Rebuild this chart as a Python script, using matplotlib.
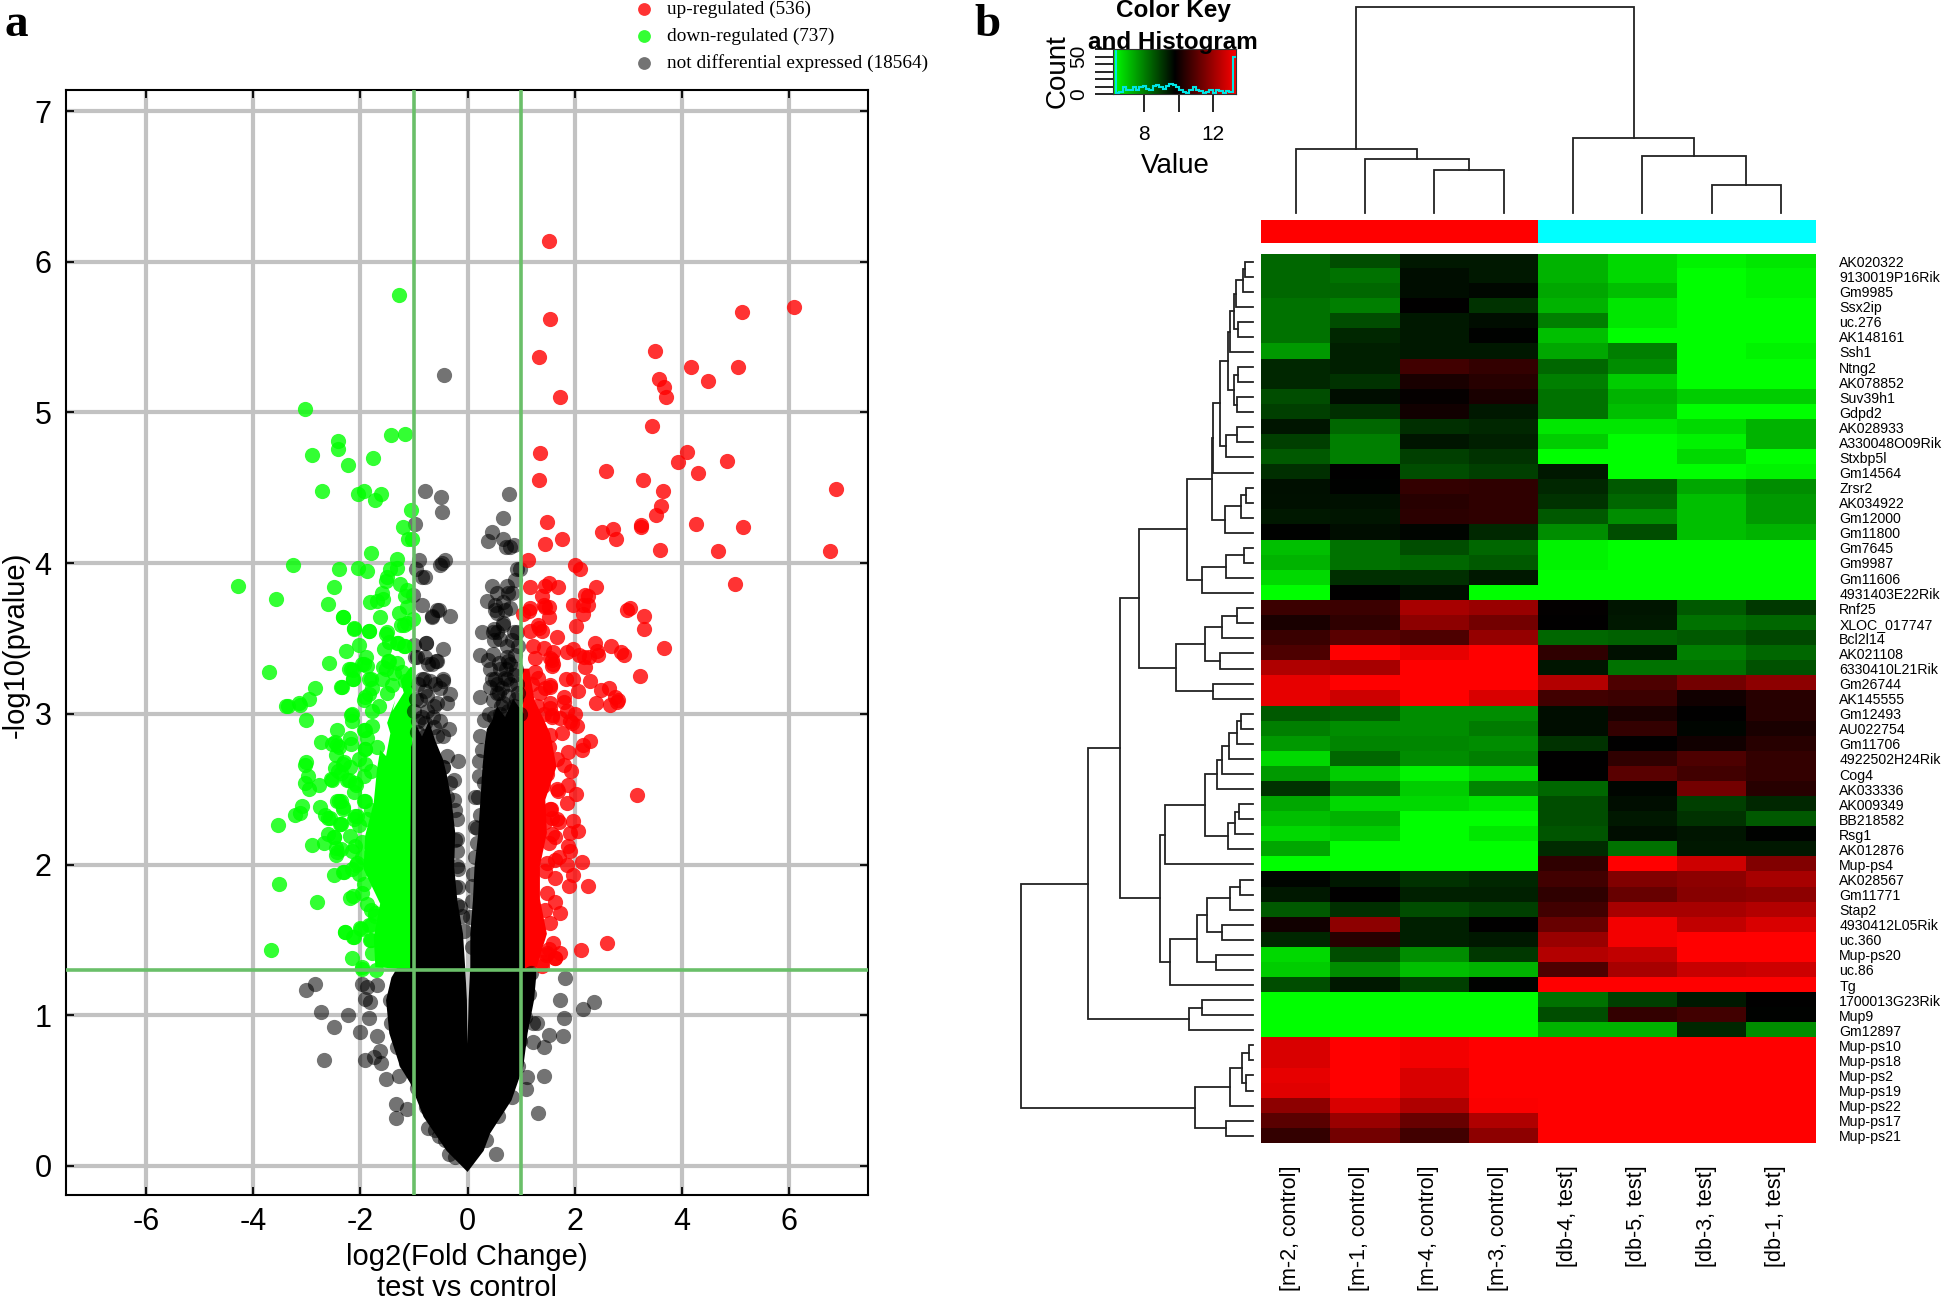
import numpy as np
import matplotlib
matplotlib.use('Agg')
import matplotlib.pyplot as plt
from matplotlib.colors import LinearSegmentedColormap, ListedColormap

plt.rcParams['font.family'] = ['Liberation Sans', 'DejaVu Sans']

# volcano plot, single points as (log2fc, -log10p)
up_points = [
    (1.51, 6.14), (1.53, 5.62), (1.34, 5.37), (1.72, 5.10), (1.36, 4.73), (1.34, 4.55), (2.58, 4.61), (3.27, 4.55),
    (1.48, 4.27), (1.76, 4.16), (1.45, 4.13), (2.51, 4.21), (2.71, 4.23), (2.77, 4.16), (3.23, 4.24), (1.12, 4.02),
    (2.01, 3.99), (2.09, 3.96), (1.17, 3.84), (1.45, 3.85), (1.51, 3.87), (1.68, 3.84), (2.40, 3.84), (1.39, 3.78),
    (2.20, 3.79), (2.24, 3.78), (1.97, 3.72), (2.16, 3.72), (2.24, 3.72), (1.42, 3.72), (1.51, 3.71), (1.16, 3.70),
    (1.04, 3.66), (2.16, 3.66), (1.51, 3.64), (2.97, 3.69), (3.03, 3.70), (3.30, 3.65), (3.30, 3.56), (2.02, 3.58),
    (1.67, 3.51), (1.33, 3.57), (1.39, 3.55), (2.37, 3.47), (2.67, 3.45), (2.41, 3.42), (2.44, 3.39), (2.87, 3.41),
    (2.91, 3.39), (1.85, 3.41), (1.97, 3.43), (2.07, 3.39), (2.18, 3.38), (2.26, 3.38), (2.20, 3.31), (1.60, 3.41),
    (1.57, 3.36), (1.59, 3.33), (3.22, 3.25), (1.84, 3.23), (1.97, 3.23), (2.29, 3.22), (1.54, 3.18), (1.45, 3.17),
    (2.06, 3.15), (2.48, 3.16), (2.63, 3.17), (1.79, 3.11), (2.75, 3.11),
    (5.12, 5.67), (6.09, 5.70), (3.50, 5.41), (5.05, 5.30), (4.17, 5.30), (3.57, 5.22), (3.66, 5.17), (3.71, 5.10),
    (4.49, 5.21), (3.45, 4.91), (4.10, 4.74), (3.92, 4.67), (4.84, 4.68), (4.29, 4.60), (6.88, 4.49), (3.64, 4.48),
    (3.61, 4.38), (3.52, 4.32), (5.14, 4.24), (4.26, 4.26), (3.24, 4.25), (3.59, 4.09), (4.68, 4.08), (6.76, 4.08),
    (4.98, 3.86), (3.66, 3.44), (3.16, 2.46),
    (2.28, 2.82), (2.15, 2.79), (2.13, 2.76), (1.87, 2.75), (1.93, 2.62), (1.88, 2.53), (1.67, 2.50), (2.03, 2.47),
    (1.85, 2.41), (1.56, 2.37), (1.57, 2.31), (1.70, 2.28), (1.97, 2.29), (2.06, 2.22), (1.92, 2.21), (1.57, 2.20),
    (1.88, 2.12), (1.92, 2.09), (2.13, 2.02), (1.70, 2.05), (1.85, 2.00), (1.48, 2.01), (1.45, 1.96), (1.64, 1.91),
    (1.96, 1.93), (1.90, 1.86), (2.25, 1.86), (1.48, 1.81), (1.64, 1.75), (1.72, 1.68), (1.60, 1.48), (1.73, 1.41),
    (1.64, 1.38), (2.11, 1.43), (2.61, 1.48), (1.47, 1.40), (1.39, 1.33), (2.40, 3.07), (2.65, 3.06), (2.79, 3.08),
    (1.54, 3.04), (1.79, 3.08), (2.01, 3.00), (1.95, 2.94), (2.04, 2.92), (1.76, 2.87), (1.57, 2.99), (1.54, 2.86),
    (1.14, 3.68), (1.45, 3.71), (1.32, 3.59), (1.17, 3.55), (1.23, 3.45), (1.42, 3.44), (1.26, 3.37), (1.54, 3.37),
    (1.57, 3.32), (1.26, 3.28), (1.32, 3.24), (1.20, 3.20), (1.35, 3.14), (1.54, 3.19), (2.81, 3.09), (1.54, 3.07),
    (1.29, 3.05), (1.85, 3.02), (1.42, 3.00), (1.57, 2.98), (1.73, 2.97), (1.91, 2.95), (1.66, 2.70), (1.79, 2.66),
    (1.69, 2.49), (1.54, 2.37), (1.66, 2.30), (1.63, 2.18), (1.51, 2.14), (1.63, 2.03), (1.45, 1.70), (1.54, 1.61),
    (1.63, 1.38), (1.48, 1.41), (1.39, 1.35), (1.51, 1.44), (1.48, 2.60), (1.40, 2.52), (1.52, 2.78), (1.44, 2.28),
]
down_points = [
    (-1.27, 5.78), (-3.04, 5.02), (-1.42, 4.85), (-1.16, 4.86), (-2.42, 4.81), (-2.41, 4.76), (-2.90, 4.72),
    (-1.76, 4.70), (-2.23, 4.65), (-2.71, 4.48), (-2.05, 4.46), (-1.93, 4.48), (-1.62, 4.46), (-1.72, 4.42),
    (-1.05, 4.35), (-1.21, 4.24), (-1.12, 4.16), (-1.04, 4.16), (-1.81, 4.07), (-1.31, 4.03), (-3.26, 3.99),
    (-2.39, 3.96), (-2.05, 3.97), (-1.88, 3.95), (-1.32, 3.97), (-1.44, 3.96), (-1.50, 3.91), (-1.52, 3.88),
    (-1.26, 3.86), (-2.50, 3.84), (-3.58, 3.76), (-2.60, 3.73), (-1.82, 3.74), (-1.69, 3.75), (-1.58, 3.76),
    (-1.60, 3.80), (-1.13, 3.82), (-1.16, 3.78), (-1.13, 3.71), (-1.27, 3.67), (-2.33, 3.64), (-1.64, 3.64),
    (-2.11, 3.57), (-1.83, 3.55), (-1.24, 3.59), (-1.13, 3.60), (-1.01, 3.63), (-1.52, 3.53), (-1.47, 3.48),
    (-1.32, 3.47), (-1.19, 3.45), (-2.03, 3.46), (-2.26, 3.42), (-1.89, 3.38), (-1.55, 3.43), (-2.58, 3.34),
    (-1.97, 3.33), (-1.88, 3.32), (-3.71, 3.28), (-2.21, 3.30), (-2.13, 3.29), (-1.49, 3.35), (-1.32, 3.34),
    (-1.57, 3.31), (-2.14, 3.23), (-1.83, 3.23), (-2.84, 3.17), (-2.36, 3.18), (-2.95, 3.10), (-3.15, 3.07),
    (-1.78, 3.17), (-1.91, 3.11), (-4.28, 3.85), (-3.38, 3.05),
    (-3.35, 3.05), (-3.13, 3.06), (-3.01, 2.96), (-2.17, 2.99), (-2.16, 2.95), (-2.44, 2.89), (-2.73, 2.81),
    (-2.53, 2.80), (-2.43, 2.79), (-2.45, 2.73), (-2.19, 2.84), (-2.18, 2.80), (-1.91, 2.89), (-1.88, 2.84),
    (-1.91, 2.77), (-3.01, 2.68), (-3.03, 2.66), (-2.97, 2.59), (-3.03, 2.54), (-2.95, 2.50), (-2.78, 2.53),
    (-2.54, 2.57), (-2.41, 2.62), (-2.30, 2.68), (-2.19, 2.65), (-2.22, 2.56), (-2.10, 2.54), (-2.11, 2.48),
    (-3.09, 2.39), (-3.12, 2.34), (-3.22, 2.33), (-2.76, 2.38), (-2.66, 2.33), (-2.61, 2.31), (-2.43, 2.42),
    (-2.36, 2.42), (-2.33, 2.37), (-1.93, 2.42), (-2.10, 2.32), (-2.38, 2.27), (-3.54, 2.26), (-2.61, 2.20),
    (-2.50, 2.18), (-2.67, 2.14), (-2.19, 2.19), (-2.90, 2.13), (-2.45, 2.11), (-2.45, 2.06), (-2.10, 2.12),
    (-2.16, 2.09), (-2.50, 1.93), (-2.33, 1.95), (-2.16, 1.97), (-2.06, 2.01), (-3.52, 1.87), (-2.81, 1.75),
    (-2.20, 1.78), (-2.14, 1.79), (-1.88, 1.74), (-1.72, 1.68), (-2.29, 1.55), (-2.13, 1.52), (-1.98, 1.57),
    (-1.83, 1.60), (-3.66, 1.43), (-1.82, 1.50), (-1.78, 1.41), (-2.15, 1.38), (-1.97, 1.31), (-1.70, 1.30),
    (-2.32, 3.64), (-2.12, 3.56), (-1.84, 3.55), (-1.18, 3.59), (-1.50, 3.54), (-1.29, 3.47), (-1.16, 3.45),
    (-1.94, 3.33), (-2.17, 3.30), (-2.14, 3.23), (-2.35, 3.18), (-1.47, 3.35), (-1.53, 3.30), (-1.38, 3.27),
    (-1.22, 3.28), (-1.60, 3.23), (-1.81, 3.23), (-1.41, 3.19), (-1.16, 3.22), (-1.50, 3.14), (-1.94, 3.09),
    (-1.84, 3.13), (-1.66, 3.05), (-1.78, 3.02), (-2.16, 3.00), (-1.94, 2.89), (-1.91, 2.77), (-2.47, 2.81),
    (-2.40, 2.78), (-1.69, 2.78), (-1.78, 2.92), (-2.03, 2.70), (-2.32, 2.67), (-1.91, 2.67), (-2.47, 2.64),
    (-2.37, 2.61), (-2.53, 2.56), (-2.25, 2.56), (-2.09, 2.53), (-1.94, 2.59), (-1.81, 2.62), (-2.40, 2.42),
    (-2.32, 2.38), (-1.92, 2.42), (-1.81, 2.36), (-2.56, 2.31), (-2.37, 2.27), (-2.12, 2.30), (-2.06, 2.32),
    (-2.03, 2.26), (-1.88, 2.30), (-2.50, 2.18), (-1.97, 2.15), (-2.43, 2.08), (-2.37, 2.10), (-1.97, 2.05),
    (-2.09, 2.00), (-2.31, 1.95), (-2.03, 1.94), (-1.94, 1.87), (-1.97, 1.81), (-1.81, 1.70), (-1.72, 1.66),
    (-1.81, 1.60), (-2.00, 1.58), (-2.28, 1.55), (-2.12, 1.52), (-1.81, 1.50), (-1.97, 1.32),
]
grey_points = [
    (-0.44, 5.25), (-0.80, 4.48), (-0.50, 4.44), (-0.47, 4.34), (0.78, 4.46), (0.66, 4.30), (0.45, 4.21), (0.39, 4.15),
    (0.66, 4.16), (0.72, 4.11), (0.80, 4.11), (0.86, 4.12), (-0.98, 4.26), (-0.91, 4.02), (-0.43, 4.02), (-0.48, 4.00),
    (-0.51, 3.99), (-0.97, 3.96), (-0.85, 3.91), (-0.79, 3.91), (0.92, 3.96), (0.98, 3.96), (0.89, 3.89), (0.45, 3.85),
    (0.73, 3.85), (0.55, 3.80), (0.76, 3.80), (0.83, 3.80), (0.36, 3.75), (0.52, 3.72), (0.80, 3.70), (0.70, 3.69),
    (0.55, 3.67), (-1.01, 3.79), (-0.85, 3.72), (-0.54, 3.69), (-0.67, 3.64), (-0.32, 3.65), (0.27, 3.54), (0.49, 3.56),
    (0.55, 3.54), (0.67, 3.59), (0.49, 3.49), (0.92, 3.54), (0.83, 3.49), (-0.78, 3.47), (-0.99, 3.46), (-0.45, 3.43),
    (0.24, 3.39), (0.39, 3.36), (0.58, 3.34), (0.73, 3.45), (0.76, 3.35), (-0.95, 3.38), (-0.79, 3.38), (-0.67, 3.33),
    (-0.57, 3.35), (-0.85, 3.23), (-0.46, 3.22), (-0.70, 3.22), (-0.51, 3.17), (-0.32, 3.13), (0.45, 3.23), (0.42, 3.18),
    (0.58, 3.14), (0.24, 3.11), (0.73, 3.23),
    (-0.35, 2.90), (-0.17, 2.69), (-0.26, 2.56), (0.21, 2.69), (0.22, 2.59), (0.14, 2.45), (0.24, 2.33), (-0.23, 2.36),
    (-0.19, 2.09), (0.17, 2.24), (0.17, 2.14), (0.08, 1.86), (-0.17, 1.85), (1.81, 1.25), (1.73, 1.10), (2.35, 1.09),
    (2.16, 1.04), (1.79, 0.98), (1.52, 0.87), (1.78, 0.86), (1.42, 0.79), (1.23, 0.82), (1.29, 0.95), (1.23, 0.95),
    (1.42, 0.60), (1.11, 0.59), (1.09, 0.51), (1.31, 0.35), (0.53, 0.08), (-2.84, 1.21), (-3.01, 1.17), (-2.73, 1.02),
    (-2.23, 1.00), (-2.50, 0.92), (-1.97, 1.21), (-1.88, 1.19), (-1.69, 1.20), (-1.91, 1.11), (-1.82, 1.09), (-1.83, 0.98),
    (-2.00, 0.89), (-1.69, 0.86), (-2.67, 0.70), (-1.91, 0.70), (-1.75, 0.72), (-1.63, 0.76), (-1.62, 0.68), (-1.27, 0.60),
    (-1.52, 0.58), (-1.33, 0.41), (-1.13, 0.38), (-1.33, 0.32), (-0.74, 0.25), (-0.54, 0.20), (-0.35, 0.08),
    (0.67, 3.74), (0.51, 3.69), (0.67, 3.60), (0.48, 3.54), (0.61, 3.50), (0.86, 3.54), (0.48, 3.40), (0.73, 3.38),
    (0.89, 3.39), (0.80, 3.33), (0.70, 3.24), (0.52, 3.23), (0.86, 3.26), (0.92, 3.20), (0.55, 3.14), (0.76, 3.12),
    (0.95, 3.14), (0.67, 3.07), (0.48, 3.09), (0.86, 3.05), (0.40, 3.00), (0.60, 3.00),
    (-0.57, 3.69), (-0.66, 3.65), (-0.77, 3.47), (-0.98, 3.38), (-0.58, 3.35), (-0.73, 3.33), (-0.45, 3.23), (-0.82, 3.23),
    (-0.39, 3.07), (-0.57, 3.07), (-0.76, 3.12), (-0.88, 3.09), (-0.79, 2.94), (-0.63, 2.91), (-0.79, 2.85), (-0.57, 2.85),
    (-0.92, 2.95), (-0.45, 2.65), (-0.39, 2.72), (-0.97, 3.10), (-0.65, 2.98), (-0.92, 3.20),
    (-0.39, 2.45), (-0.20, 2.17), (-0.17, 1.97), (-0.23, 1.85), (-0.20, 1.73), (-0.11, 1.66),
    (0.30, 2.96), (0.24, 2.85), (0.27, 2.76), (0.30, 2.54), (0.20, 2.45), (0.14, 2.25), (0.14, 2.05), (0.11, 1.94),
    (0.08, 1.76), (0.05, 1.65), (0.08, 1.45), (-0.45, 2.65), (-0.32, 2.54), (-0.26, 2.43), (-0.20, 2.30), (-0.23, 2.16),
    (-0.20, 1.99), (-0.14, 1.72), (-0.07, 1.56),
    (-1.45, 1.10), (-1.42, 0.95), (-1.32, 0.79), (-1.14, 0.68), (-0.94, 0.52), (-0.78, 0.39), (-0.60, 0.24), (-0.42, 0.17),
    (-0.24, 0.06), (1.18, 1.28), (1.15, 1.14), (1.08, 0.99), (0.98, 0.83), (0.94, 0.66), (0.82, 0.46), (0.57, 0.33),
    (0.34, 0.17),
    (0.50, 2.98), (0.62, 3.05), (0.75, 3.02), (0.90, 3.10), (0.98, 3.00), (0.55, 3.20), (0.65, 3.17), (0.80, 3.20),
    (0.90, 3.30), (0.60, 3.30), (0.72, 3.30), (0.95, 3.45), (0.42, 3.30), (-0.95, 2.88), (-0.85, 2.98), (-0.75, 3.02),
    (-0.62, 3.05), (-0.52, 2.95), (-0.45, 2.85), (-1.00, 3.02), (-0.80, 3.15), (-0.60, 3.20),
]

# the saturated clouds can't be told apart point by point, so keep their outlines
core_x = [0, -0.39, -0.82, -1.07, -1.26, -1.46, -1.52, -1.42, -1.32, -1.07, -1.07, -1.05, -0.95, -0.85, -0.72, -0.60,
          -0.46, -0.39, -0.30, -0.23, -0.25, -0.19, -0.085, -0.045, -0.012, 0, 0.02, 0.05, 0.05, 0.10, 0.13, 0.20,
          0.24, 0.28, 0.32, 0.36, 0.45, 0.55, 0.70, 0.85, 1.05, 1.07, 1.28, 1.28, 1.24, 1.12, 1.04, 0.82, 0.42, 0.30]
core_y = [-0.04, 0.10, 0.325, 0.55, 0.66, 0.88, 1.10, 1.25, 1.31, 1.31, 2.0, 2.78, 2.92, 2.85, 2.95, 2.82,
          2.70, 2.60, 2.43, 2.21, 1.985, 1.76, 1.54, 1.32, 1.10, 0.81, 1.10, 1.32, 1.54, 1.76, 1.985, 2.21,
          2.43, 2.65, 2.80, 2.90, 2.95, 3.05, 2.98, 3.10, 3.00, 1.31, 1.31, 1.255, 1.10, 0.88, 0.66, 0.436, 0.215, 0.10]
down_cloud_x = [-1.03, -1.72, -1.75, -1.63, -1.94, -1.91, -1.75, -1.69, -1.63, -1.52, -1.44, -1.50, -1.35, -1.40, -1.19,
                -1.25, -1.07, -1.03]
down_cloud_y = [1.30, 1.32, 1.52, 1.74, 1.97, 2.19, 2.41, 2.63, 2.76, 2.72, 2.87, 2.94, 3.09, 3.02, 3.14, 3.22, 3.31,
                3.31]
up_cloud_x = [1.03, 1.29, 1.48, 1.35, 1.35, 1.48, 1.45, 1.66, 1.54, 1.40, 1.25, 1.15, 1.03]
up_cloud_y = [1.30, 1.32, 1.54, 1.77, 1.99, 2.21, 2.43, 2.65, 2.87, 2.98, 3.09, 3.30, 3.30]

fc_cut = 1
p_cut = 1.3
x_ticks = [-6, -4, -2, 0, 2, 4, 6]
y_ticks = [0, 1, 2, 3, 4, 5, 6, 7]

legend_labels = ['up-regulated (536)', 'down-regulated (737)', 'not differential expressed (18564)']

# heatmap: -10 is full green, 0 black, 10 full red
gene_names = [
    'AK020322', '9130019P16Rik', 'Gm9985', 'Ssx2ip', 'uc.276', 'AK148161', 'Ssh1', 'Ntng2', 'AK078852', 'Suv39h1',
    'Gdpd2', 'AK028933', 'A330048O09Rik', 'Stxbp5l', 'Gm14564', 'Zrsr2', 'AK034922', 'Gm12000', 'Gm11800', 'Gm7645',
    'Gm9987', 'Gm11606', '4931403E22Rik', 'Rnf25', 'XLOC_017747', 'Bcl2l14', 'AK021108', '6330410L21Rik', 'Gm26744',
    'AK145555', 'Gm12493', 'AU022754', 'Gm11706', '4922502H24Rik', 'Cog4', 'AK033336', 'AK009349', 'BB218582', 'Rsg1',
    'AK012876', 'Mup-ps4', 'AK028567', 'Gm11771', 'Stap2', '4930412L05Rik', 'uc.360', 'Mup-ps20', 'uc.86', 'Tg',
    '1700013G23Rik', 'Mup9', 'Gm12897', 'Mup-ps10', 'Mup-ps18', 'Mup-ps2', 'Mup-ps19', 'Mup-ps22', 'Mup-ps17', 'Mup-ps21',
]
sample_names = ['[m-2, control]', '[m-1, control]', '[m-4, control]', '[m-3, control]',
                '[db-4, test]', '[db-5, test]', '[db-3, test]', '[db-1, test]']
sample_groups = [0, 0, 0, 0, 1, 1, 1, 1]
heat_values = [
    [-4, -3, -1, -1, -7, -8.5, -9.5, -9],
    [-4, -4.5, -0.5, -1, -7, -8.5, -10, -9.5],
    [-4, -4, -0.5, -0.3, -6.5, -7.5, -10, -9.5],
    [-4.5, -5, 0, -2, -7, -9, -10, -10],
    [-4.5, -3, -1, -0.5, -5, -9, -10, -10],
    [-4.5, -1.5, -1, -0.1, -7.5, -10, -10, -10],
    [-6, -1.2, -1, -1, -6.5, -5, -10, -9.5],
    [-1.5, -1.2, 2.5, 2, -4, -5.5, -10, -10],
    [-1.5, -2, 1, 1.5, -5, -8, -10, -10],
    [-3, -0.5, 0.2, 1, -4.5, -7, -8, -8],
    [-2.5, -1.8, 0.7, -1, -4.5, -7.5, -10, -10],
    [-0.8, -4, -1.8, -1.5, -9, -9, -8.5, -7],
    [-2.5, -5, -0.8, -1.2, -8, -10, -9.5, -7],
    [-3.5, -5, -2.5, -2, -10, -10, -8.5, -10],
    [-1.8, 0, -3, -2.5, -1, -10, -10, -9.5],
    [-0.6, -0.1, 2, 1.8, -1.5, -3.5, -6.5, -5.5],
    [-0.7, -0.7, 1.5, 1.8, -2, -4, -7.5, -6],
    [-1, -0.8, 1.7, 1.8, -3.5, -5.5, -7.5, -6],
    [-0.1, -0.5, -0.2, -1.6, -5.5, -3, -7.5, -7],
    [-7.5, -4.5, -3, -4, -9.5, -10, -10, -10],
    [-7, -4.5, -4, -3.5, -9.5, -10, -10, -10],
    [-8.5, -1.8, -1.8, -1, -10, -10, -10, -10],
    [-10, 0, -0.5, -10, -10, -10, -10, -10],
    [2.3, 2.3, 6.5, 6, 0.1, -0.8, -3.5, -2.2],
    [1, 1.8, 5.5, 4.5, 0, -1, -4.5, -4],
    [2.2, 3.5, 3, 5.8, -4, -3.8, -3.5, -2.8],
    [3, 10, 9, 10, 1.8, -0.7, -5, -4],
    [6.8, 6.5, 10, 10, -0.8, -4.5, -4.5, -3.2],
    [9, 10, 10, 10, 7, 3, 4.5, 5.5],
    [9, 8, 10, 8.5, 2.5, 2.3, 0.7, 1.5],
    [-3.5, -3.8, -5.5, -5.5, -0.5, 1, 0, 1.5],
    [-5, -5.5, -5.5, -4.8, -0.5, 2, -0.2, 1],
    [-6, -5.2, -5.3, -5.5, -2, 0, 0.7, 1.5],
    [-8.5, -4, -5.5, -5, 0, 1.8, 3, 2],
    [-6, -8, -9.5, -8.5, 0, 3.5, 2.5, 2],
    [-2, -5, -8, -5.2, -4, -0.2, 4.5, 1.5],
    [-6.5, -8.5, -8.5, -9, -3, -0.5, -2.5, -1.5],
    [-7.5, -7, -10, -10, -3, -1, -2, -3.5],
    [-8.5, -8, -10, -9, -3.3, -0.5, -0.8, -0.1],
    [-6.5, -10, -10, -10, -1.7, -4.5, -1, -1],
    [-10, -10, -10, -10, 1.8, 10, 8, 5],
    [-0.2, -1, -2, -1.5, 2.5, 5, 5.5, 6.5],
    [-1, 0, -1.3, -1.3, 1.8, 4, 5.3, 5.5],
    [-3.5, -1.8, -3, -2.5, 2.5, 6.5, 6.5, 7],
    [0.7, 5.5, -1.2, 0, 4, 9.5, 7.5, 8.5],
    [-1.5, 1.5, -1.2, -1, 6, 9.5, 10, 10],
    [-8.5, -3, -5.5, -2.2, 7, 7.5, 10, 10],
    [-8, -5.5, -7.5, -7, 3, 6.5, 7.8, 8],
    [-3, -1, -2.5, -0.1, 10, 10, 10, 10],
    [-10, -10, -10, -10, -4.5, -2.5, -1, 0],
    [-10, -10, -10, -10, -3, 2, 2.5, -0.1],
    [-10, -10, -10, -10, -7, -7, -1.5, -5.5],
    [8.5, 10, 9.5, 10, 10, 10, 10, 10],
    [8.5, 10, 9.5, 10, 10, 10, 10, 10],
    [9, 10, 8.5, 10, 10, 10, 10, 10],
    [8.8, 10, 8.5, 10, 10, 10, 10, 10],
    [5.5, 8.5, 6.8, 9.8, 10, 10, 10, 10],
    [3.5, 6, 4, 6.8, 10, 10, 10, 10],
    [2, 4.5, 2.5, 5.5, 10, 10, 10, 10],
]

# dendrograms as (height, left, right), a plain int is a leaf
row_tree = (232,
    (164.7,
        (132.7,
            (113.7,
                (66,
                    (41,
                        (39.3,
                            (32.7,
                                (25,
                                    (22.7, (18.7, (17, (9.7, (7.7, 0, 1), 2), 3), (14.7, 4, 5)), 6),
                                    (18.7, (14.7, 7, 8), (15.7, 9, 10))),
                                (26.7, (15.7, 11, 12), 13)),
                            14),
                        (27.3, (11.7, (7, 15, 16), 17), 18)),
                    (51, (26.7, (8.3, 19, 20), 21), 22)),
                (77,
                    (48, (30.7, (15.7, 23, 24), 25), (32.3, 26, 27)),
                    (39.3, 28, 29))),
            (92.7,
                (88,
                    (47.7,
                        (36, (30.3, (24, (16, (12, 30, 31), 32), 33), 34), 35),
                        (24.7, (17.3, (13.7, 36, 37), 38), 39)),
                    40),
                (83,
                    (56,
                        (45.3, (22.7, (12.3, 41, 42), 43), (30.7, 44, 45)),
                        (37, 46, 47)),
                    48))),
        (64, (50.3, 49, 50), 51)),
    (57.7,
        (22.7, (10.3, (3.7, 52, 53), (7, 54, 55)), 56),
        (27, 57, 58)))
col_tree = (206,
    (64, 0, (54, 1, (43, 2, 3))),
    (75, 4, (57, 5, (28, 6, 7))))

# colour key histogram
key_min = 6.16
key_max = 13.34
key_counts = [60, 2, 3, 10, 5, 6, 9, 5, 9, 11, 7, 6, 11, 12, 9, 7, 11, 13, 12, 9, 5, 3, 2, 5, 9, 6, 4, 2, 3, 6, 2, 5, 4,
              1, 4, 3, 50]

W, H = 1944, 1300


def px_axes(fig, left, top, right, bottom):
    return fig.add_axes([left / W, 1 - bottom / H, (right - left) / W, (bottom - top) / H])


def tree_segments(node, segs):
    # returns leaf centre and height, collects the three lines of each merge
    if isinstance(node, int):
        return node + 0.5, 0
    h, a, b = node
    pa, ha = tree_segments(a, segs)
    pb, hb = tree_segments(b, segs)
    segs.append(([pa, pa, pb, pb], [ha, h, h, hb]))
    return (pa + pb) / 2, h


fig = plt.figure(figsize=(W / 100, H / 100), dpi=100)

# a) volcano
ax = px_axes(fig, 65.5, 90, 868, 1195)
ax.set_xlim(-7.5, 7.47)
ax.set_ylim(-0.193, 7.14)
ax.grid(True, color='#c2c2c2', lw=3)
ax.set_axisbelow(True)
ax.set_xticks(x_ticks)
ax.set_yticks(y_ticks)
ax.set_xticklabels([str(v) for v in x_ticks], fontsize=22)
ax.set_yticklabels([str(v) for v in y_ticks], fontsize=22)
ax.tick_params(direction='in', length=6, width=1.3, top=True, right=True, pad=9)
ax.tick_params(axis='y', pad=10)
for s in ax.spines.values():
    s.set_linewidth(1.5)

ax.fill(down_cloud_x, down_cloud_y, color='#00ff00', lw=0, zorder=2)
ax.fill(up_cloud_x, up_cloud_y, color='#ff0000', lw=0, zorder=2)
for pts, col in [(grey_points, 'black'), (down_points, '#00ff00'), (up_points, '#ff0000')]:
    pts = np.array(pts)
    a = 0.55 if col == 'black' else 0.8
    ax.scatter(pts[:, 0], pts[:, 1], s=120, color=col, alpha=a, lw=0, zorder=3)
ax.fill(core_x, core_y, color='black', lw=0, zorder=3)
ax.axvline(-fc_cut, color='#6abf69', lw=2.6, zorder=4)
ax.axvline(fc_cut, color='#6abf69', lw=2.6, zorder=4)
ax.axhline(p_cut, color='#6abf69', lw=2.6, zorder=4)

# b) heatmap
heat = np.array(heat_values)
rg = LinearSegmentedColormap.from_list('rg', ['#00ff00', '#000000', '#ff0000'])
hx = px_axes(fig, 1261, 254, 1815.7, 1143.3)
hx.imshow(heat, cmap=rg, vmin=-10, vmax=10, aspect='auto', interpolation='nearest',
          extent=(0, heat.shape[1], heat.shape[0], 0))
hx.yaxis.tick_right()
hx.set_yticks(np.arange(len(gene_names)) + 0.5)
hx.set_yticklabels(gene_names, fontsize=10.2)
hx.set_xticks(np.arange(len(sample_names)) + 0.42)
hx.set_xticklabels(sample_names, fontsize=15.5, rotation=90)
hx.tick_params(length=0)
hx.tick_params(axis='y', pad=17)
hx.tick_params(axis='x', pad=16)
for s in hx.spines.values():
    s.set_visible(False)

bar = px_axes(fig, 1261, 220, 1815.7, 243)
bar.imshow([sample_groups], cmap=ListedColormap(['#ff0000', '#00ffff']), aspect='auto', interpolation='nearest')
bar.axis('off')

rd = px_axes(fig, 1020.7, 254, 1252.7, 1143.3)
rd.set_xlim(232, 0)
rd.set_ylim(len(gene_names), 0)
rd.axis('off')
segs = []
tree_segments(row_tree, segs)
for ys, xs in segs:
    rd.plot(xs, ys, color='#222222', lw=1.3, solid_joinstyle='miter', clip_on=False)

cd = px_axes(fig, 1261, 7, 1815.7, 213)
cd.set_xlim(0, len(sample_names))
cd.set_ylim(0, 206)
cd.axis('off')
segs = []
tree_segments(col_tree, segs)
for xs, ys in segs:
    cd.plot(xs, ys, color='#222222', lw=1.3, solid_joinstyle='miter', clip_on=False)

# colour key
kx = px_axes(fig, 1112.7, 49, 1236, 94)
kx.imshow([np.linspace(0, 1, 256)], cmap=rg, aspect='auto', extent=(key_min, key_max, 0, 60))
edges = np.linspace(key_min, key_max, len(key_counts) + 1)
kx.stairs(key_counts, edges, color='#00e5e5', lw=1.5, baseline=None)
kx.set_xlim(key_min, key_max)
kx.set_ylim(0, 60)
kx.set_xticks([8, 10, 12])
kx.set_xticklabels(['8', '', '12'], fontsize=15)
kx.set_yticks([0, 10, 20, 30, 40, 50, 60])
kx.set_yticklabels(['0', '', '', '', '', '50', ''], fontsize=15, rotation=90, va='center')
kx.tick_params(axis='x', length=13, width=1.2, pad=9)
kx.tick_params(axis='y', length=13, width=1.2, pad=5)
for s in kx.spines.values():
    s.set_linewidth(0.8)
    s.set_color('#333333')

# free text, placed in pixels
ov = fig.add_axes([0, 0, 1, 1], facecolor='none')
ov.set_xlim(0, W)
ov.set_ylim(H, 0)
ov.axis('off')
ov.text(467, 1257, 'log2(Fold Change)', fontsize=21, ha='center', va='center')
ov.text(467, 1288, 'test vs control', fontsize=21, ha='center', va='center')
ov.text(16, 645, '-log10(pvalue)', fontsize=21, rotation=90, ha='center', va='center')
ov.text(4, 36, 'a', fontsize=34, fontweight='bold', family='Liberation Serif', ha='left', va='baseline')
ov.text(974, 36, 'b', fontsize=34, fontweight='bold', family='Liberation Serif', ha='left', va='baseline')
for yy, label, col, a in zip([9, 36, 63], legend_labels, ['#ff0000', '#00ff00', 'black'], [0.8, 0.8, 0.55]):
    ov.scatter([644], [yy], s=85, color=col, alpha=a, lw=0)
    ov.text(667, yy, label, fontsize=13.9, family='Liberation Serif', ha='left', va='center')
ov.text(1173, 11, 'Color Key', fontsize=17.5, fontweight='bold', ha='center', va='center')
ov.text(1173, 43, 'and Histogram', fontsize=17.5, fontweight='bold', ha='center', va='center')
ov.text(1175, 166, 'Value', fontsize=20, ha='center', va='center')
ov.text(1058, 71, 'Count', fontsize=20, rotation=90, ha='center', va='center')

fig.savefig('out.png', dpi=100)
